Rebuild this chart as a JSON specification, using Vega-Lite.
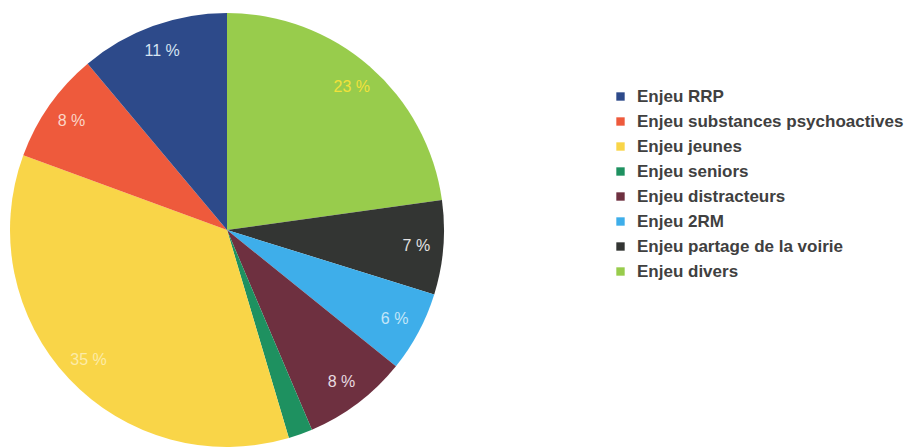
{
  "$schema": "https://vega.github.io/schema/vega-lite/v6.json",
  "width": 454,
  "height": 460,
  "padding": 0,
  "autosize": {"type": "pad"},
  "background": "white",
  "config": {"view": {"stroke": null}},
  "data": {
    "values": [
      {"enjeu": "Enjeu divers", "part": 22.8, "rang": 1, "label": "23 %"},
      {"enjeu": "Enjeu partage de la voirie", "part": 7.0, "rang": 2, "label": "7 %"},
      {"enjeu": "Enjeu 2RM", "part": 6.0, "rang": 3, "label": "6 %"},
      {"enjeu": "Enjeu distracteurs", "part": 7.8, "rang": 4, "label": "8 %"},
      {"enjeu": "Enjeu seniors", "part": 1.8, "rang": 5, "label": ""},
      {"enjeu": "Enjeu jeunes", "part": 35.2, "rang": 6, "label": "35 %"},
      {"enjeu": "Enjeu substances psychoactives", "part": 8.3, "rang": 7, "label": "8 %"},
      {"enjeu": "Enjeu RRP", "part": 11.1, "rang": 8, "label": "11 %"}
    ]
  },
  "encoding": {
    "theta": {"field": "part", "type": "quantitative", "stack": true},
    "order": {"field": "rang", "type": "quantitative"}
  },
  "layer": [
    {
      "mark": {"type": "arc", "outerRadius": 217},
      "encoding": {
        "color": {
          "field": "enjeu",
          "type": "nominal",
          "scale": {
            "domain": ["Enjeu RRP", "Enjeu substances psychoactives", "Enjeu jeunes", "Enjeu seniors", "Enjeu distracteurs", "Enjeu 2RM", "Enjeu partage de la voirie", "Enjeu divers"],
            "range": ["#2D4A8A", "#EE5A3C", "#F9D548", "#1E9160", "#6E3040", "#3EAEEA", "#333533", "#98CC4C"]
          },
          "legend": {
            "title": null,
            "orient": "none",
            "legendX": 612,
            "legendY": 88,
            "symbolType": "square",
            "symbolSize": 70,
            "symbolStrokeWidth": 0,
            "labelFont": "Liberation Sans",
            "labelFontSize": 17,
            "labelFontWeight": "bold",
            "labelColor": "#404040",
            "labelOffset": 8,
            "rowPadding": 7,
            "labelLimit": 400
          }
        }
      }
    },
    {
      "mark": {"type": "text", "radius": 190, "font": "Liberation Sans", "fontSize": 16, "align": "center", "baseline": "middle"},
      "encoding": {
        "text": {"field": "label"},
        "color": {
          "field": "enjeu",
          "type": "nominal",
          "scale": {
            "domain": ["Enjeu RRP", "Enjeu substances psychoactives", "Enjeu jeunes", "Enjeu seniors", "Enjeu distracteurs", "Enjeu 2RM", "Enjeu partage de la voirie", "Enjeu divers"],
            "range": ["#D6E4F2", "#FBD6C8", "#FCEBA8", "#FFFFFF", "#E8DCE0", "#C4E6F8", "#E2E2E2", "#F2E23A"]
          },
          "legend": null
        }
      }
    }
  ],
  "resolve": {"scale": {"color": "independent"}, "legend": {"color": "independent"}}
}
